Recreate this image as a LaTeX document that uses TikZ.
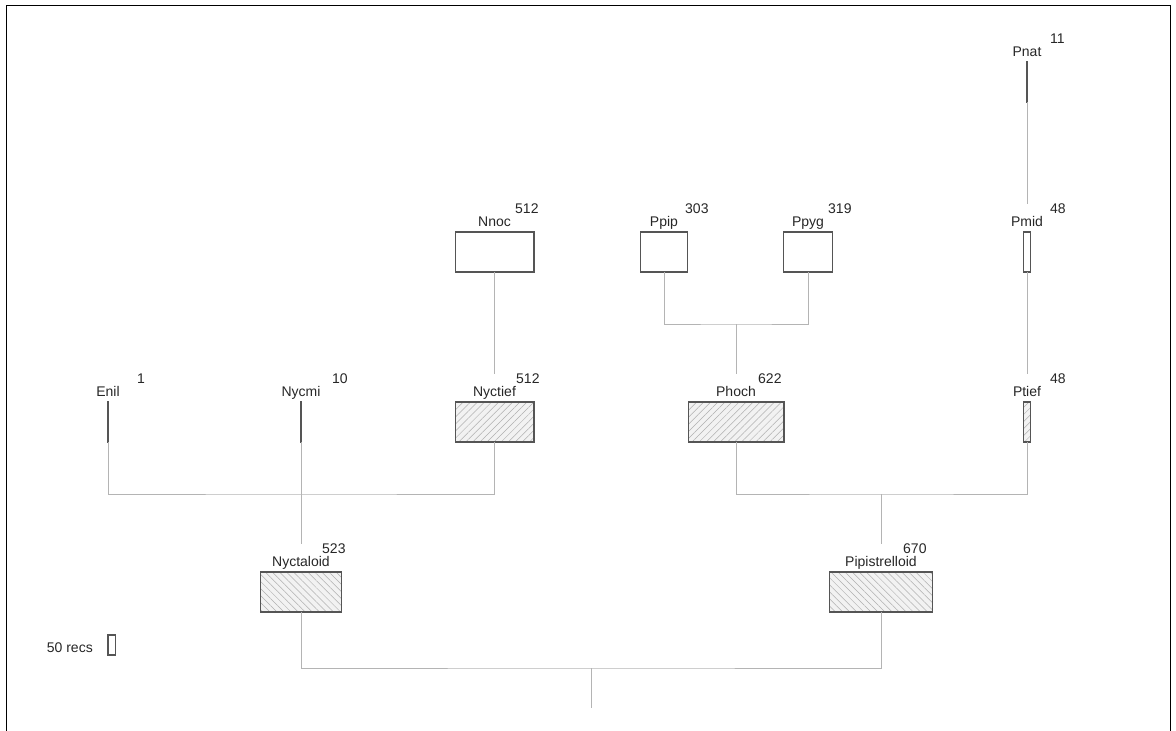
\documentclass[tikz,border=0pt]{standalone}
\usepackage{fontspec}
\setmainfont{Liberation Sans}
\usetikzlibrary{patterns.meta}
\definecolor{boxline}{HTML}{555555}
\definecolor{connc}{HTML}{B4B4B4}
\definecolor{hatchc}{HTML}{B0B0B0}
\definecolor{hatchbg}{HTML}{F2F2F2}
\begin{document}
\begin{tikzpicture}[x=1pt,y=-1pt,
  box/.style={rectangle, draw=boxline, line width=1.2pt, fill=white, minimum height=40pt, inner sep=0pt, outer sep=0pt, anchor=north},
  hatchne/.style={box, preaction={fill=hatchbg}, pattern={Lines[angle=45,distance=5pt,line width=0.5pt]}, pattern color=hatchc},
  hatchnw/.style={box, preaction={fill=hatchbg}, pattern={Lines[angle=-45,distance=5pt,line width=0.5pt]}, pattern color=hatchc},
  lbl/.style={inner sep=0pt, anchor=base, text height=10pt, text depth=3pt, font=\fontsize{14}{14}\selectfont, text=black!85},
  num/.style={inner sep=0pt, anchor=base west, font=\fontsize{14}{14}\selectfont, text=black!85},
  conn/.style={draw=connc, line width=1pt},
  frame/.style={draw=black, line width=0.8pt}]
\useasboundingbox (0,0) rectangle (1176,731);
\draw[frame] (6,731) -- (6,5) -- (1170,5) -- (1170,731);

% row 0
\node[box, minimum width=1.7pt] (Pnat) at (1027,62) {};
\node[lbl] (Pnatl) at (1027,56) {Pnat};
\node[num] (Pnatn) at (1050,43) {11};

% row 1
\node[box, minimum width=78.8pt] (Nnoc) at (494.5,232) {};
\node[lbl] (Nnocl) at (494.5,226) {Nnoc};
\node[num] (Nnocn) at (515,213) {512};
\node[box, minimum width=46.7pt] (Ppip) at (664,232) {};
\node[lbl] (Ppipl) at (664,226) {Ppip};
\node[num] (Ppipn) at (685,213) {303};
\node[box, minimum width=49.1pt] (Ppyg) at (808,232) {};
\node[lbl] (Ppygl) at (808,226) {Ppyg};
\node[num] (Ppygn) at (828,213) {319};
\node[box, minimum width=7.4pt] (Pmid) at (1027,232) {};
\node[lbl] (Pmidl) at (1027,226) {Pmid};
\node[num] (Pmidn) at (1050,213) {48};

% row 2
\node[box, minimum width=0.15pt] (Enil) at (108,402) {};
\node[lbl] (Enill) at (108,396) {Enil};
\node[num] (Eniln) at (137,383) {1};
\node[box, minimum width=1.54pt] (Nycmi) at (301,402) {};
\node[lbl] (Nycmil) at (301,396) {Nycmi};
\node[num] (Nycmin) at (332,383) {10};
\node[hatchne, minimum width=78.8pt] (Nyctief) at (494.5,402) {};
\node[lbl] (Nyctiefl) at (494.5,396) {Nyctief};
\node[num] (Nyctiefn) at (516,383) {512};
\node[hatchne, minimum width=95.8pt] (Phoch) at (736,402) {};
\node[lbl] (Phochl) at (736,396) {Phoch};
\node[num] (Phochn) at (758,383) {622};
\node[hatchne, minimum width=7.4pt] (Ptief) at (1027,402) {};
\node[lbl] (Ptiefl) at (1027,396) {Ptief};
\node[num] (Ptiefn) at (1050,383) {48};

% row 3
\node[hatchnw, minimum width=80.5pt] (Nyctaloid) at (301,572) {};
\node[lbl] (Nyctaloidl) at (301,566) {Nyctaloid};
\node[num] (Nyctaloidn) at (322,553) {523};
\node[hatchnw, minimum width=103.2pt] (Pipistrelloid) at (881,572) {};
\node[lbl] (Pipistrelloidl) at (881,566) {Pipistrelloid};
\node[num] (Pipistrelloidn) at (903,553) {670};

% legend
\node[lbl, anchor=base east] (legl) at (93,652) {50 recs};
\node[box, minimum width=7.7pt, minimum height=20pt] (legbox) at (111.8,635) {};

% connectors (end just above the child's name)
\draw[conn] (Pnat.south) -- ([yshift=12pt]Pmidl.north);
\draw[conn] (Pmid.south) -- ([yshift=12pt]Ptiefl.north);
\draw[conn] (Nnoc.south) -- ([yshift=12pt]Nyctiefl.north);
\coordinate (jA) at (736,324);
\draw[conn] (Ppip.south) |- (jA) -| (Ppyg.south);
\draw[conn] (jA) -- ([yshift=12pt]Phochl.north);
\coordinate (jB) at (301,494);
\draw[conn] (Enil.south) |- (jB) -| (Nyctief.south);
\draw[conn] (Nycmi.south) -- ([yshift=12pt]Nyctaloidl.north);
\coordinate (jC) at (881,494);
\draw[conn] (Phoch.south) |- (jC) -| (Ptief.south);
\draw[conn] (jC) -- ([yshift=12pt]Pipistrelloidl.north);
\coordinate (jD) at (591,668);
\coordinate (root) at (591,708);
\draw[conn] (Nyctaloid.south) |- (jD) -| (Pipistrelloid.south);
\draw[conn] (jD) -- (root);
\end{tikzpicture}
\end{document}
